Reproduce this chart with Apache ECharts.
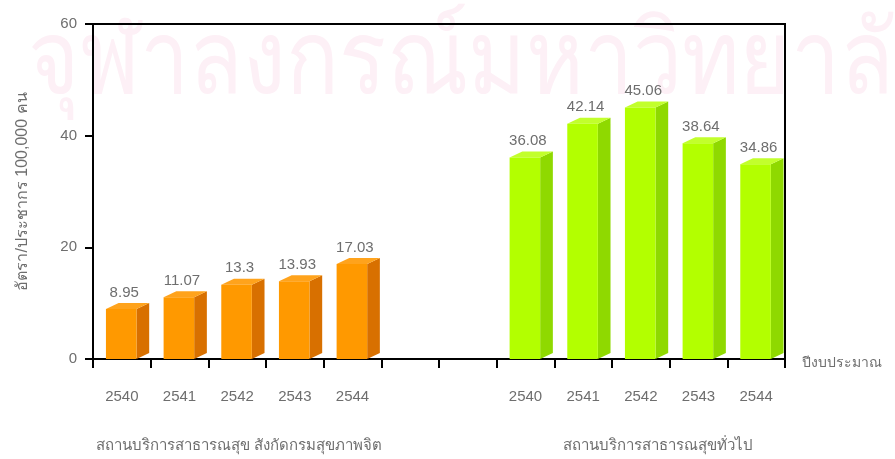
<!DOCTYPE html>
<html>
<head>
<meta charset="utf-8">
<script src="https://cdn.jsdelivr.net/npm/echarts@6/dist/echarts.min.js"></script>
<style>
html,body{margin:0;padding:0;background:#fff;}
#chart{width:895px;height:459px;}
</style>
</head>
<body>
<div id="chart"></div>
<script>
// ---- data ----
var categories = ['2540','2541','2542','2543','2544','','','2540','2541','2542','2543','2544'];
var groupAValues = [8.95, 11.07, 13.3, 13.93, 17.03];
var groupBValues = [36.08, 42.14, 45.06, 38.64, 34.86];
var groupAStart = 0;
var groupBStart = 7;
var yTicks = [0, 20, 40, 60];
var yAxisName = 'อัตรา/ประชากร 100,000 คน';
var xAxisName = 'ปีงบประมาณ';
var groupALabel = 'สถานบริการสาธารณสุข สังกัดกรมสุขภาพจิต';
var groupBLabel = 'สถานบริการสาธารณสุขทั่วไป';
var watermark = 'จุฬาลงกรณ์มหาวิทยาลัย';

var FONT = '"Liberation Sans", Arial, sans-serif';
var TEXT = '#6e6e6e';

function makeData(start, vals){
  return vals.map(function(v,i){ return [start+i, v]; });
}

function bar3d(colors){
  return function(params, api){
    var idx = api.value(0), v = api.value(1);
    var base = api.coord([idx, 0]);
    var top = api.coord([idx, v]);
    var w = api.size([1, 0])[0];
    var fw = w * 0.53;
    var x0 = top[0] - fw * 0.52;
    var x1 = x0 + fw;
    var dx = w * 0.22, dy = 6;
    return {
      type: 'group',
      children: [
        {type:'polygon', shape:{points:[[x1, top[1]],[x1+dx, top[1]-dy],[x1+dx, base[1]-dy],[x1, base[1]]]}, style:{fill:colors.side}},
        {type:'polygon', shape:{points:[[x0, top[1]],[x0+dx, top[1]-dy],[x1+dx, top[1]-dy],[x1, top[1]]]}, style:{fill:colors.top}},
        {type:'rect', shape:{x:x0, y:top[1], width:fw, height:base[1]-top[1]}, style:{fill:colors.front}},
        {type:'text', style:{text:String(v), x:(x0+x1)/2 + 3, y:top[1]-dy-3, align:'center', verticalAlign:'bottom', fill:TEXT, font:'15px ' + FONT}}
      ]
    };
  };
}

var chart = echarts.init(document.getElementById('chart'), null, {renderer:'canvas'});
chart.setOption({
  animation: false,
  backgroundColor: '#fff',
  textStyle: {fontFamily: FONT},
  grid: {left: 93, right: 110, top: 24, bottom: 100, show: true, borderColor: '#000', borderWidth: 2, backgroundColor: 'transparent', z: 5},
  xAxis: {
    type: 'category',
    data: categories,
    boundaryGap: true,
    axisLine: {lineStyle: {color: '#000', width: 2}},
    axisTick: {show: true, interval: 0, length: 9, lineStyle: {color: '#000', width: 2}},
    axisLabel: {interval: 0, margin: 30, color: TEXT, fontSize: 15, fontFamily: FONT},
    splitLine: {show: false}
  },
  yAxis: {
    type: 'value',
    min: yTicks[0], max: yTicks[yTicks.length-1], interval: 20,
    axisLine: {show: true, lineStyle: {color: '#000', width: 2}},
    axisTick: {show: true, length: 8, lineStyle: {color: '#000', width: 2}},
    axisLabel: {margin: 16, color: TEXT, fontSize: 15, fontFamily: FONT},
    splitLine: {show: false},
    name: yAxisName,
    nameLocation: 'middle',
    nameGap: 62,
    nameRotate: 90,
    nameTextStyle: {color: TEXT, fontSize: 16, fontFamily: FONT}
  },
  graphic: [
    {type:'text', x: 28, y: 14, scaleX: 0.86, scaleY: 1.0, z: -10, silent: true,
     style:{text: watermark, fill:'#fdf0f6', font:'102px ' + FONT}},
    {type:'text', left: 802, top: 356, style:{text: xAxisName, fill: TEXT, font:'14px ' + FONT}},
    {type:'text', x: 239, y: 446, style:{text: groupALabel, fill: TEXT, font:'15px ' + FONT, align:'center', verticalAlign:'middle'}},
    {type:'text', x: 658, y: 446, style:{text: groupBLabel, fill: TEXT, font:'15px ' + FONT, align:'center', verticalAlign:'middle'}}
  ],
  series: [
    {type:'custom', clip:false, z: 10, renderItem: bar3d({front:'#ff9900', side:'#d87000', top:'#ffa31c'}), data: makeData(groupAStart, groupAValues)},
    {type:'custom', clip:false, z: 10, renderItem: bar3d({front:'#b3ff00', side:'#8fd900', top:'#c2ff2c'}), data: makeData(groupBStart, groupBValues)}
  ]
});
</script>
</body>
</html>
